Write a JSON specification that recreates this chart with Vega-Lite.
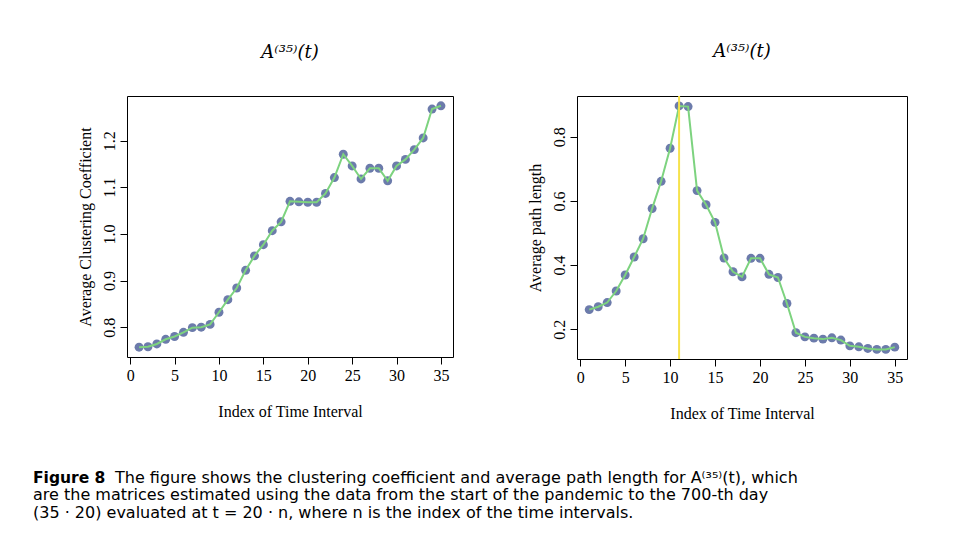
{
  "$schema": "https://vega.github.io/schema/vega-lite/v6.json",
  "autosize": {"type": "pad"},
  "padding": {"left": 33, "top": 42, "right": 5, "bottom": 5},
  "background": "white",
  "bounds": "flush",
  "spacing": 378,
  "datasets": {
    "series": [
      {"n": 1, "cc": 0.757, "apl": 0.261},
      {"n": 2, "cc": 0.758, "apl": 0.270},
      {"n": 3, "cc": 0.764, "apl": 0.283},
      {"n": 4, "cc": 0.774, "apl": 0.319},
      {"n": 5, "cc": 0.780, "apl": 0.369},
      {"n": 6, "cc": 0.789, "apl": 0.425},
      {"n": 7, "cc": 0.799, "apl": 0.482},
      {"n": 8, "cc": 0.800, "apl": 0.576},
      {"n": 9, "cc": 0.806, "apl": 0.661},
      {"n": 10, "cc": 0.832, "apl": 0.764},
      {"n": 11, "cc": 0.859, "apl": 0.896},
      {"n": 12, "cc": 0.884, "apl": 0.894},
      {"n": 13, "cc": 0.922, "apl": 0.632},
      {"n": 14, "cc": 0.953, "apl": 0.588},
      {"n": 15, "cc": 0.977, "apl": 0.533},
      {"n": 16, "cc": 1.007, "apl": 0.422},
      {"n": 17, "cc": 1.026, "apl": 0.379},
      {"n": 18, "cc": 1.070, "apl": 0.363},
      {"n": 19, "cc": 1.069, "apl": 0.421},
      {"n": 20, "cc": 1.068, "apl": 0.421},
      {"n": 21, "cc": 1.068, "apl": 0.371},
      {"n": 22, "cc": 1.087, "apl": 0.361},
      {"n": 23, "cc": 1.121, "apl": 0.280},
      {"n": 24, "cc": 1.171, "apl": 0.189},
      {"n": 25, "cc": 1.146, "apl": 0.176},
      {"n": 26, "cc": 1.118, "apl": 0.172},
      {"n": 27, "cc": 1.141, "apl": 0.169},
      {"n": 28, "cc": 1.141, "apl": 0.173},
      {"n": 29, "cc": 1.114, "apl": 0.166},
      {"n": 30, "cc": 1.146, "apl": 0.148},
      {"n": 31, "cc": 1.160, "apl": 0.145},
      {"n": 32, "cc": 1.181, "apl": 0.140},
      {"n": 33, "cc": 1.206, "apl": 0.137},
      {"n": 34, "cc": 1.268, "apl": 0.137},
      {"n": 35, "cc": 1.275, "apl": 0.144}
    ],
    "caption": [
      {"line": 1, "seg": "bold", "text": "Figure 8"},
      {"line": 1, "seg": "first", "text": "The figure shows the clustering coefficient and average path length for A⁽³⁵⁾(t), which"},
      {"line": 2, "seg": "rest", "text": "are the matrices estimated using the data from the start of the pandemic to the 700-th day"},
      {"line": 3, "seg": "rest", "text": "(35 · 20) evaluated at t = 20 · n, where n is the index of the time intervals."}
    ],
    "marker": [{"n": 11}]
  },
  "vconcat": [
    {
      "hconcat": [
        {
          "width": 326,
          "height": 261,
          "title": {"text": "A⁽³⁵⁾(t)"},
          "data": {"name": "series"},
          "encoding": {
            "x": {
              "field": "n", "type": "quantitative",
              "scale": {"domain": [-0.36, 36.36], "nice": false, "zero": false},
              "axis": {"title": "Index of Time Interval", "values": [0, 5, 10, 15, 20, 25, 30, 35]}
            },
            "y": {
              "field": "cc", "type": "quantitative",
              "scale": {"domain": [0.736, 1.296], "nice": false, "zero": false},
              "axis": {"title": "Average Clustering Coefficient", "values": [0.8, 0.9, 1.0, 1.1, 1.2], "format": ".1f"}
            }
          },
          "layer": [
            {"mark": {"type": "point", "filled": true, "size": 80, "color": "#6c7bab", "opacity": 1}},
            {"mark": {"type": "line", "color": "#7dd37f", "strokeWidth": 2}}
          ]
        },
        {
          "width": 330,
          "height": 263,
          "title": {"text": "A⁽³⁵⁾(t)"},
          "layer": [
            {
              "data": {"name": "series"},
              "mark": {"type": "point", "filled": true, "size": 80, "color": "#6c7bab", "opacity": 1},
              "encoding": {
                "x": {
                  "field": "n", "type": "quantitative",
                  "scale": {"domain": [-0.36, 36.36], "nice": false, "zero": false},
                  "axis": {"title": "Index of Time Interval", "values": [0, 5, 10, 15, 20, 25, 30, 35]}
                },
                "y": {
                  "field": "apl", "type": "quantitative",
                  "scale": {"domain": [0.107, 0.927], "nice": false, "zero": false},
                  "axis": {"title": "Average path length", "values": [0.2, 0.4, 0.6, 0.8], "format": ".1f"}
                }
              }
            },
            {
              "data": {"name": "series"},
              "mark": {"type": "line", "color": "#7dd37f", "strokeWidth": 2},
              "encoding": {
                "x": {"field": "n", "type": "quantitative"},
                "y": {"field": "apl", "type": "quantitative"}
              }
            },
            {
              "data": {"name": "marker"},
              "mark": {"type": "rule", "color": "#f6e24b", "strokeWidth": 2},
              "encoding": {
                "x": {"field": "n", "type": "quantitative"}
              }
            }
          ]
        }
      ],
      "spacing": 124,
      "bounds": "flush"
    },
    {
      "width": 780,
      "height": 52.5,
      "data": {"name": "caption"},
      "encoding": {
        "x": {"datum": 0, "type": "quantitative", "scale": {"domain": [0, 1]}, "axis": null},
        "y": {"field": "line", "type": "quantitative", "scale": {"domain": [3.5, 0.5], "nice": false, "zero": false}, "axis": null},
        "text": {"field": "text"}
      },
      "layer": [
        {
          "transform": [{"filter": "datum.seg == 'bold'"}],
          "mark": {"type": "text", "align": "left", "baseline": "alphabetic", "font": "DejaVu Sans", "fontSize": 15.5, "fontWeight": "bold", "color": "black", "dx": -94}
        },
        {
          "transform": [{"filter": "datum.seg == 'first'"}],
          "mark": {"type": "text", "align": "left", "baseline": "alphabetic", "font": "DejaVu Sans", "fontSize": 16, "color": "black", "dx": -12}
        },
        {
          "transform": [{"filter": "datum.seg == 'rest'"}],
          "mark": {"type": "text", "align": "left", "baseline": "alphabetic", "font": "DejaVu Sans", "fontSize": 16, "color": "black", "dx": -94}
        }
      ],
      "view": {"stroke": null}
    }
  ],
  "config": {
    "view": {"stroke": "black", "strokeWidth": 1},
    "font": "Liberation Serif",
    "title": {"font": "DejaVu Serif", "fontSize": 18, "fontStyle": "italic", "fontWeight": "normal", "color": "black", "offset": 34, "anchor": "middle"},
    "axis": {
      "domain": false,
      "grid": false,
      "ticks": true,
      "tickSize": 7,
      "tickColor": "black",
      "tickWidth": 1,
      "labelFont": "Liberation Serif",
      "labelFontSize": 16,
      "labelColor": "black",
      "labelPadding": 3,
      "titleFont": "Liberation Serif",
      "titleFontSize": 16,
      "titleFontWeight": "normal",
      "titleColor": "black",
      "labelFlush": false,
      "labelOverlap": false
    },
    "axisX": {"labelPadding": 3, "titlePadding": 20},
    "axisY": {"labelAngle": -90, "labelAlign": "center", "labelBaseline": "bottom", "titlePadding": 8}
  }
}
